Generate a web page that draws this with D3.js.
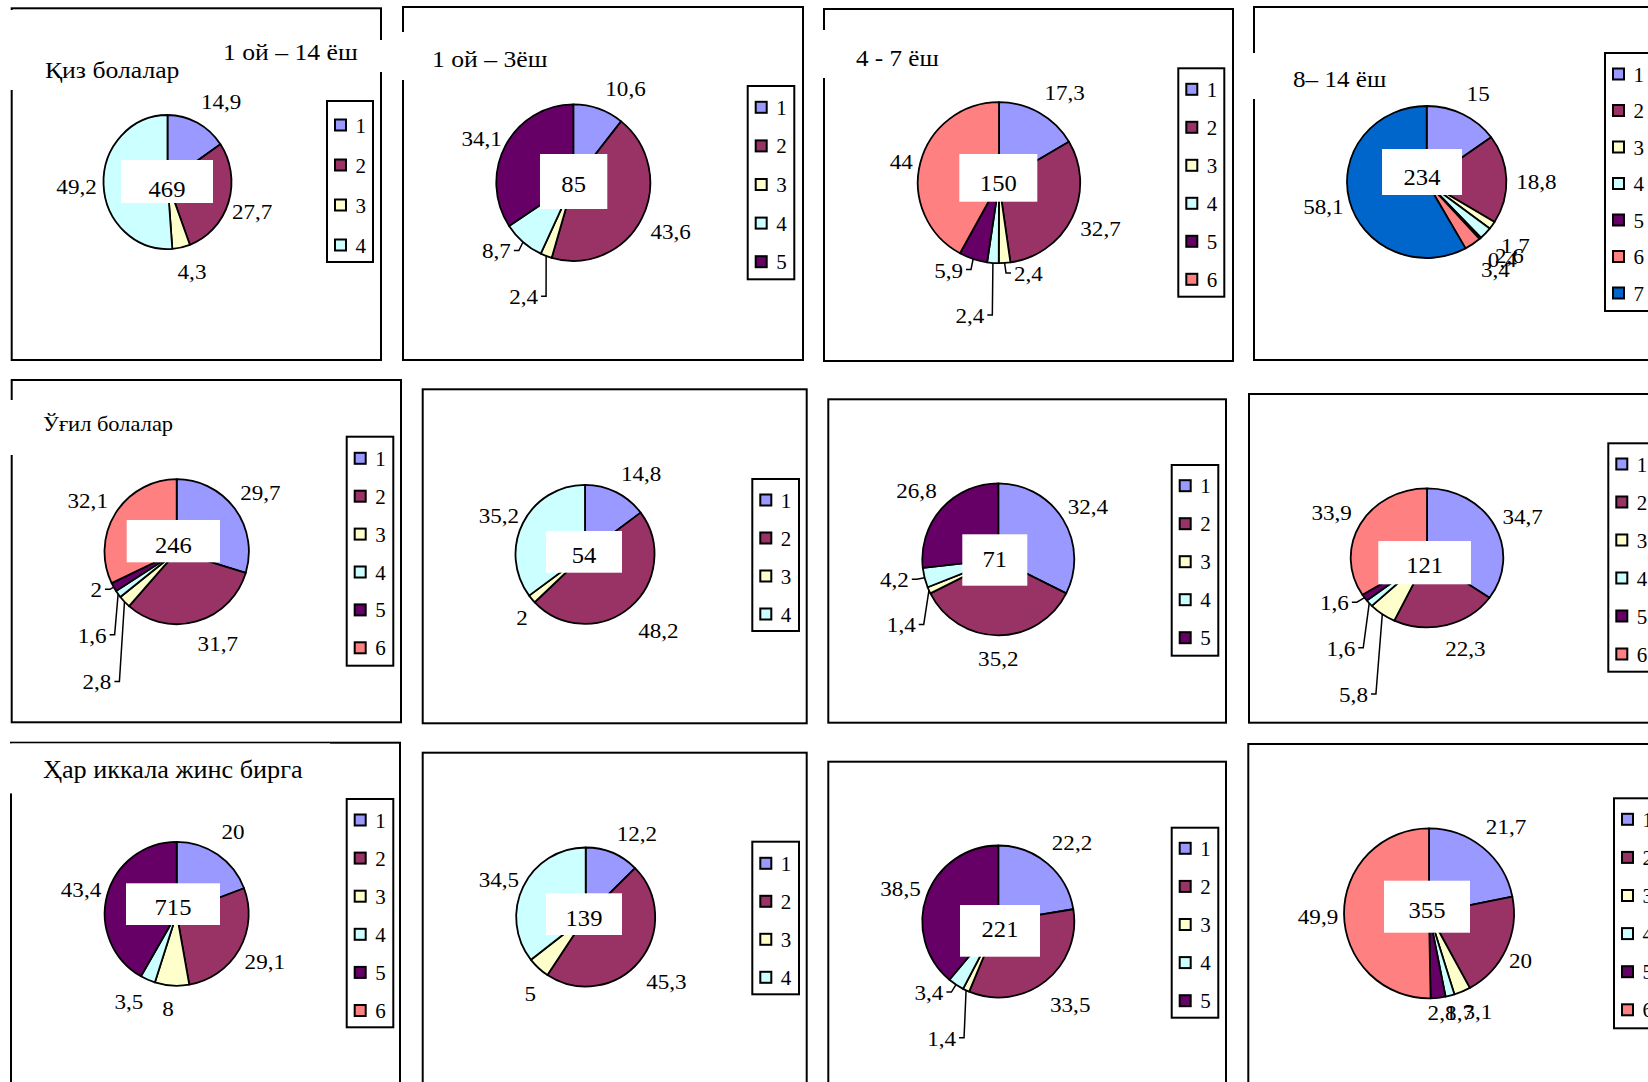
<!DOCTYPE html>
<html>
<head>
<meta charset="utf-8">
<script src="https://cdn.jsdelivr.net/npm/d3@7"></script>
<style>
  html, body { margin: 0; padding: 0; background: #fff; }
  svg { display: block; }
  text { font-family: "Liberation Serif", "Times New Roman", serif; fill: #000; }
</style>
</head>
<body>
<svg id="chart" width="1648" height="1082"></svg>
<script>
// Category codes used by every legend, and their fill colours
const categories = ["1", "2", "3", "4", "5", "6", "7"];
const categoryColors = ["#9999FF", "#993366", "#FFFFCC", "#CCFFFF", "#660066", "#FF8080", "#0066CC"];

// Shares (%) per category — girls
const girlsAll   = [14.9, 27.7, 4.3, 49.2];
const girls1m3y  = [10.6, 43.6, 2.4, 8.7, 34.1];
const girls4to7  = [17.3, 32.7, 2.4, 2.4, 5.9, 44];
const girls8to14 = [15, 18.8, 1.7, 2.6, 0.4, 3.4, 58.1];
// boys
const boysAll    = [29.7, 31.7, 2.8, 1.6, 2, 32.1];
const boys1m3y   = [14.8, 48.2, 2, 35.2];
const boys4to7   = [32.4, 35.2, 1.4, 4.2, 26.8];
const boys8to14  = [34.7, 22.3, 5.8, 1.6, 1.6, 33.9];
// both sexes
const bothAll    = [20, 29.1, 8, 3.5, 43.4, 0];
const both1m3y   = [12.2, 45.3, 5, 34.5];
const both4to7   = [22.2, 33.5, 1.4, 3.4, 38.5];
const both8to14  = [21.7, 20, 3.1, 1.7, 2.8, 49.9];

// Number of children in each group (printed in the middle of the pie)
const panelTotals = [469, 85, 150, 234, 246, 54, 71, 121, 715, 139, 221, 355];

const panelValues = [
  girlsAll, girls1m3y, girls4to7, girls8to14,
  boysAll, boys1m3y, boys4to7, boys8to14,
  bothAll, both1m3y, both4to7, both8to14
];

// Panel headings
const panelTitles = [
  [{ text: "Қиз болалар", x: 45, y: 78, size: 24, mask: [4, 10, 182, 80] },
   { text: "1 ой – 14 ёш", x: 223, y: 60, size: 24, mask: [205, 40, 180, 32] }],
  [{ text: "1 ой – 3ёш", x: 432, y: 67, size: 24, mask: [398, 32, 140, 48] }],
  [{ text: "4 - 7 ёш", x: 856, y: 66, size: 23.5, mask: [819, 30, 130, 48] }],
  [{ text: "8– 14 ёш", x: 1293, y: 87, size: 23.5, mask: [1249, 53, 150, 46] }],
  [{ text: "Ўғил болалар", x: 43, y: 431, size: 21, mask: [5, 400, 190, 55] }],
  [], [], [],
  [{ text: "Ҳар иккала жинс бирга", x: 43, y: 778, size: 24.5, mask: [5, 743.4, 325, 50] }],
  [], [], []
];

// Type sizes and horizontal stretch of the serif face
const labelFont  = { size: 21, stretch: 1.1 };
const totalFont  = { size: 23, stretch: 1.07 };
const titleStretch = 1.07;
const legendFont = { size: 21, stretch: 1.0 };

// Layout of each panel: frame, pie centre/radii, centre box, legend box,
// per-label nudges from the radial position, and labels drawn with leader lines
const panelLayout = [
  { frame: [11.7, 8.3, 381, 360], pie: [167.5, 182, 64, 67], box: [121, 160, 92, 43, 37],
    legend: [327, 101, 46, 161, 125, 40],
    nudge: [[11, 3], [-2, 1], [5, -2], [0, 1]], leaders: [] },
  { frame: [403, 7, 803, 360], pie: [573.3, 182.7, 77, 78.3], box: [540, 154, 67.3, 55, 38],
    legend: [747.7, 86, 46.6, 193.3, 107.3, 38.6],
    nudge: [[18, 6], [5, 1], [-13, 16], [-9, -11], [0, 6]], leaders: [2, 3] },
  { frame: [824, 9, 1233, 361], pie: [999, 182.7, 81.2, 80.5], box: [959.3, 154, 78, 47.7, 36.7],
    legend: [1178.3, 68.3, 46, 228.4, 89.3, 38],
    nudge: [[12, 4], [4, 0], [22, -16], [-21, 26], [-16, -14], [7, 6]], leaders: [2, 3, 4] },
  { frame: [1254, 7, 1670, 360], pie: [1426.7, 182, 79.7, 76], box: [1382, 149, 80, 46, 36],
    legend: [1605, 53, 70, 258, 74, 36.5],
    nudge: [[3, 4], [3, 4], [1, 5], [4, 4], [4, 2], [7, 4], [0, -1]], leaders: [] },
  { frame: [11.7, 380, 401, 722.3], pie: [176.7, 551.7, 72.2, 72.5], box: [126.7, 520, 93.3, 42.3, 32.7],
    legend: [346.7, 436.7, 46.6, 229, 458.3, 37.9],
    nudge: [[4, 0], [14, -3], [-8, 62], [-4, 26], [6, -10], [-5, 2]], leaders: [2, 3, 4] },
  { frame: [422.7, 389.3, 806.7, 723.3], pie: [585, 554.3, 69.5, 69.5], box: [546, 531, 76, 41.7, 32.3],
    legend: [752.3, 479, 46.7, 152, 500, 38],
    nudge: [[13, 6], [11, 3], [11, 2], [0, 5]], leaders: [] },
  { frame: [828.3, 399.3, 1226, 722.7], pie: [998.3, 559.3, 76, 76], box: [962.3, 534.3, 65, 51.4, 32.4],
    legend: [1171.7, 465, 46.6, 190.7, 485.7, 38],
    nudge: [[2, 2], [0, -3], [-3, 24], [-4, -4], [-5, 0]], leaders: [2, 3] },
  { frame: [1249, 394, 1670, 722.7], pie: [1427, 557.8, 76.3, 69.5], box: [1378.3, 541, 92.7, 43.3, 32.3],
    legend: [1608.3, 443.3, 70, 228.4, 464, 38],
    nudge: [[4, 4], [12, -2], [-13, 59], [-8, 28], [-8, -10], [-5, 2]], leaders: [2, 3, 4] },
  { frame: [11, 742.7, 400, 1100], pie: [176.7, 913.8, 72, 72], box: [126, 883.3, 94, 41.7, 31.7],
    legend: [346.7, 799, 46.6, 228.3, 820, 38.1],
    nudge: [[0, 0], [2, -1], [-2, -4], [-8, -2], [0, 2]], leaders: [] },
  { frame: [422.7, 752.7, 806.7, 1100], pie: [585.7, 917, 69.5, 69.5], box: [546, 893.3, 76, 41.7, 32.7],
    legend: [752.3, 841.7, 46.7, 152.6, 863.3, 38],
    nudge: [[14, 6], [6, 4], [10, 6], [0, 5]], leaders: [] },
  { frame: [828.3, 761.7, 1226, 1100], pie: [998.3, 921.5, 76, 76], box: [960, 905, 80, 51.7, 32.3],
    legend: [1171.7, 827.7, 46.6, 190, 848.3, 38.1],
    nudge: [[7, 0], [8, 3], [-13, 24], [-12, -14], [-1, 3]], leaders: [2, 3] },
  { frame: [1248.3, 744, 1670, 1100], pie: [1429, 913.3, 85, 85], box: [1384, 880.7, 86, 52, 37],
    legend: [1614, 798.3, 70, 230, 819.3, 38.1],
    nudge: [[6, 0], [-10, 0], [5, -4], [3, -9], [1, -12], [1, 3]], leaders: [] }
];

const svg = d3.select("#chart");
const fmt = v => String(v).replace(".", ",");
const pie = d3.pie().sort(null).value(d => d);

// text placed at (x, y) and widened horizontally about its anchor
function putText(sel, x, y, size, stretch, str, anchor) {
  return sel.append("text")
    .attr("transform", `translate(${x},${y}) scale(${stretch},1)`)
    .attr("text-anchor", anchor || "start")
    .attr("font-size", size)
    .text(str);
}

panelLayout.forEach((p, i) => {
  const vals = panelValues[i];
  const g = svg.append("g").attr("class", "panel");

  // chart frame
  const [fx0, fy0, fx1, fy1] = p.frame;
  g.append("rect")
    .attr("x", fx0).attr("y", fy0)
    .attr("width", fx1 - fx0).attr("height", fy1 - fy0)
    .attr("fill", "#fff").attr("stroke", "#000").attr("stroke-width", 2);

  // headings sit in white text boxes that overlap the frame
  panelTitles[i].forEach(t => {
    g.append("rect")
      .attr("x", t.mask[0]).attr("y", t.mask[1])
      .attr("width", t.mask[2]).attr("height", t.mask[3])
      .attr("fill", "#fff");
    putText(g, t.x, t.y, t.size, titleStretch, t.text);
  });

  // slices
  const [cx, cy, rx, ry] = p.pie;
  const arcs = pie(vals);
  const arc = d3.arc().innerRadius(0).outerRadius(rx);
  g.append("g")
    .attr("transform", `translate(${cx},${cy}) scale(1,${ry / rx})`)
    .selectAll("path")
    .data(arcs.filter(d => d.value > 0))
    .join("path")
    .attr("d", arc)
    .attr("fill", d => categoryColors[d.index])
    .attr("stroke", "#000")
    .attr("stroke-width", 1.8)
    .attr("stroke-linejoin", "round")
    .attr("vector-effect", "non-scaling-stroke");

  // total in a white box over the centre
  const [bx, by, bw, bh, bdy] = p.box;
  g.append("rect")
    .attr("x", bx).attr("y", by).attr("width", bw).attr("height", bh)
    .attr("fill", "#fff");
  putText(g, bx + bw / 2, by + bdy, totalFont.size, totalFont.stretch, panelTotals[i], "middle");

  // value labels around the pie
  arcs.forEach((d, j) => {
    if (!d.value) return;
    const a = (d.startAngle + d.endAngle) / 2;
    const [nx, ny] = p.nudge[j] || [0, 0];
    const lx = cx + (rx + 27) * Math.sin(a) + nx;
    const ly = cy - (ry + 27) * Math.cos(a) + ny;
    const t = putText(g, lx, ly + 7, labelFont.size, labelFont.stretch, fmt(d.value), "middle");
    if (p.leaders.includes(j)) {
      const w = t.node().getComputedTextLength() * labelFont.stretch;
      const ex = cx + rx * Math.sin(a);
      const ey = cy - ry * Math.cos(a);
      const side = lx < ex ? 1 : -1;
      const x0 = lx + side * (w / 2 + 3);
      const x1 = x0 + side * 5;
      g.append("path")
        .attr("d", `M${x0},${ly - 1}L${x1},${ly - 1}L${ex},${ey}`)
        .attr("fill", "none")
        .attr("stroke", "#000")
        .attr("stroke-width", 1.5);
    }
  });

  // legend
  const [lgx, lgy, lgw, lgh, row0, step] = p.legend;
  const lg = g.append("g");
  lg.append("rect")
    .attr("x", lgx).attr("y", lgy).attr("width", lgw).attr("height", lgh)
    .attr("fill", "#fff").attr("stroke", "#000").attr("stroke-width", 2);
  vals.forEach((v, j) => {
    const yy = row0 + j * step;
    lg.append("rect")
      .attr("x", lgx + 8).attr("y", yy - 5.5)
      .attr("width", 11).attr("height", 11)
      .attr("fill", categoryColors[j])
      .attr("stroke", "#000").attr("stroke-width", 2);
    putText(lg, lgx + 28.5, yy + 7.5, legendFont.size, legendFont.stretch, categories[j]);
  });
});
</script>
</body>
</html>
